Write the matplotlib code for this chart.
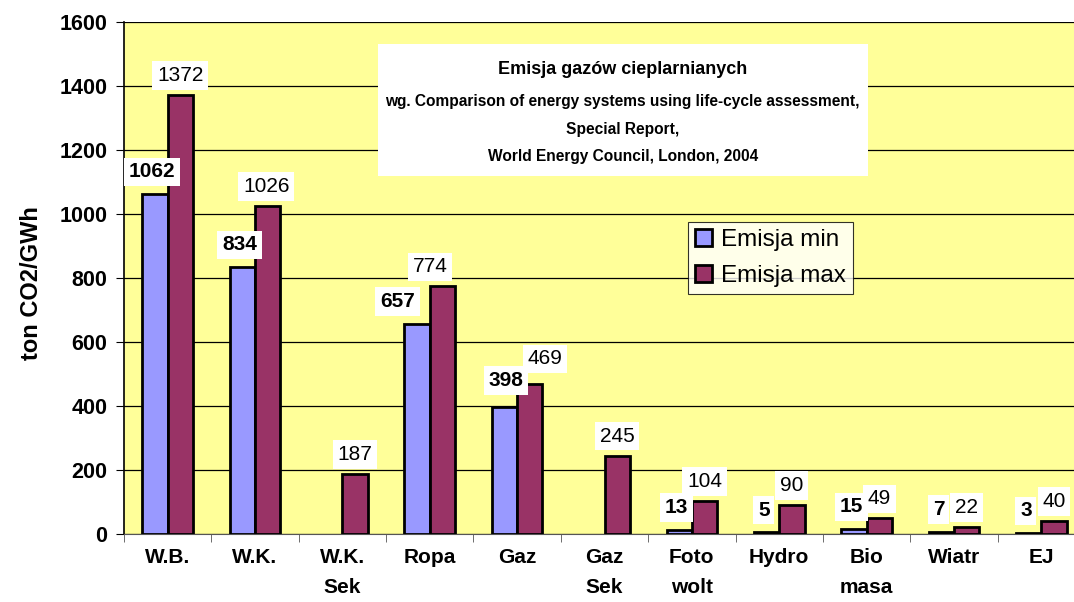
import numpy as np
import matplotlib.pyplot as plt
from matplotlib.patches import Rectangle
from matplotlib.ticker import FixedLocator

plt.rcParams['font.family'] = ['Liberation Sans', 'DejaVu Sans']

categories = ['W.B.', 'W.K.', 'W.K.\nSek', 'Ropa', 'Gaz', 'Gaz\nSek',
              'Foto\nwolt', 'Hydro', 'Bio\nmasa', 'Wiatr', 'EJ']
emisja_min = [1062, 834, None, 657, 398, None, 13, 5, 15, 7, 3]
emisja_max = [1372, 1026, 187, 774, 469, 245, 104, 90, 49, 22, 40]

# manual nudges of the data labels (points), as placed in the original
min_nudge = [(-2, 16), (-2, 16), (0, 0), (-14, 16), (1, 19), (0, 0),
             (-2, 16), (-2, 16), (-2, 16), (-2, 16), (-2, 16)]
max_nudge = [(0, 14), (-1, 14), (0, 14), (-9, 14), (11, 18), (0, 14),
             (0, 14), (0, 14), (0, 14), (0, 14), (0, 14)]

c_min = '#9999FF'
c_max = '#993366'

fig = plt.figure(figsize=(10.74, 6.02), dpi=100)
ax = fig.add_axes([124/1074, 68/602, 961/1074, 512/602])
ax.set_facecolor('#FFFF99')

x = np.arange(len(categories))
w = 0.29
mins = np.array([np.nan if v is None else v for v in emisja_min], dtype=float)
maxs = np.array(emisja_max, dtype=float)

ax.bar(x - w/2, mins, w, color=c_min, edgecolor='black', linewidth=2,
       label='Emisja min', zorder=3)
ax.bar(x + w/2, maxs, w, color=c_max, edgecolor='black', linewidth=2,
       label='Emisja max', zorder=3)

box = dict(facecolor='white', edgecolor='none', pad=3.5)
for xi, v, d in zip(x, mins, min_nudge):
    if not np.isnan(v):
        ax.annotate(f'{int(v)}', (xi - w/2, v), xytext=d,
                    textcoords='offset points', ha='center', va='center',
                    fontsize=15, fontweight='bold', bbox=box, zorder=4)
for xi, v, d in zip(x, maxs, max_nudge):
    ax.annotate(f'{int(v)}', (xi + w/2, v), xytext=d,
                textcoords='offset points', ha='center', va='center',
                fontsize=15, bbox=box, zorder=5)

ax.set_xlim(-0.5, len(categories) - 0.5)
ax.set_ylim(0, 1600)
ax.set_yticks(np.arange(0, 1601, 200))
ax.yaxis.grid(True, color='black', linewidth=0.9, zorder=0)
ax.set_axisbelow(True)

ax.set_xticks(x)
ax.set_xticklabels(categories, fontsize=15, fontweight='bold', linespacing=1.75)
ax.xaxis.set_minor_locator(FixedLocator(np.arange(-0.5, len(categories), 1)))
ax.tick_params(axis='x', which='major', length=0, pad=10)
ax.tick_params(axis='x', which='minor', length=6, direction='out', color='#555555')
ax.tick_params(axis='y', length=6, direction='out', pad=6)
for lab in ax.get_yticklabels():
    lab.set_fontweight('bold')
    lab.set_fontsize(15.5)
for lab in ax.get_xticklabels():
    lab.set_verticalalignment('top')

ax.set_ylabel('ton CO2/GWh', fontsize=17, fontweight='bold')
ax.yaxis.set_label_coords(-0.084, 0.49)

ax.spines['left'].set_color('black')
ax.spines['left'].set_linewidth(1.2)
ax.spines['bottom'].set_color('#555555')
ax.spines['top'].set_visible(False)
ax.spines['right'].set_visible(False)

# title box
ax.add_patch(Rectangle((0.264, 0.699), 0.51, 0.258, transform=ax.transAxes,
                       facecolor='white', edgecolor='none', zorder=6))
cx = 0.519
ax.text(cx, 0.907, 'Emisja gazów cieplarnianych', transform=ax.transAxes,
        ha='center', va='center', fontsize=13, fontweight='bold', zorder=7)
sub = ['wg. Comparison of energy systems using life-cycle assessment,',
       'Special Report,',
       'World Energy Council, London, 2004']
for i, s in enumerate(sub):
    ax.text(cx, 0.845 - i*0.054, s, transform=ax.transAxes, ha='center',
            va='center', fontsize=11.2, fontweight='bold', zorder=7)

leg = ax.legend(loc='upper left', bbox_to_anchor=(0.587, 0.609), fontsize=17.5,
                frameon=True, fancybox=False, borderpad=0.3, labelspacing=0.55,
                handlelength=0.7, handleheight=0.7, handletextpad=0.35,
                borderaxespad=0)
leg.get_frame().set_edgecolor('black')
leg.get_frame().set_linewidth(0.8)
leg.set_zorder(8)

fig.savefig('out.png', dpi=100)
